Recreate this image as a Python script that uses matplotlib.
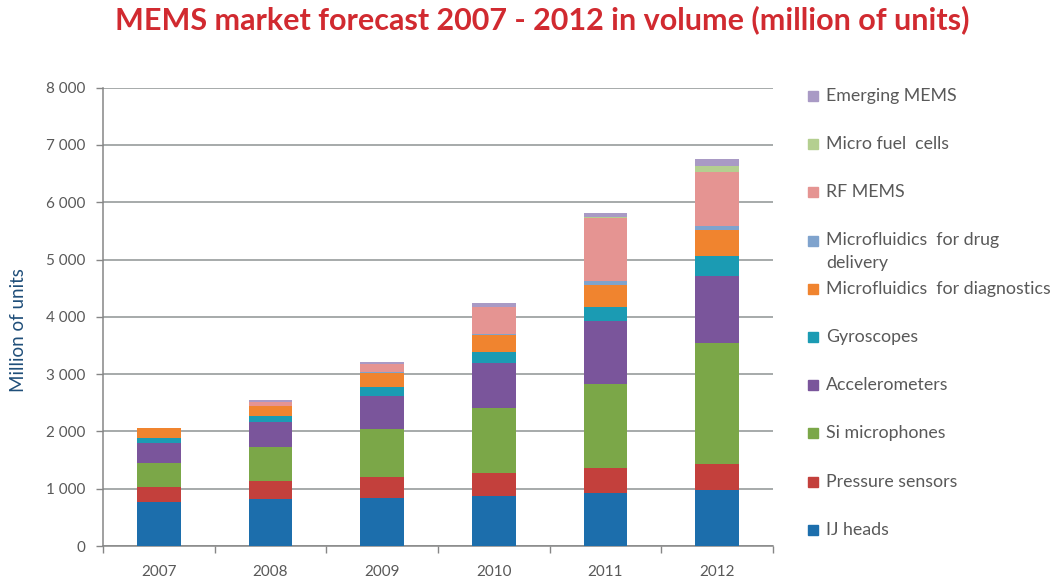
import matplotlib
matplotlib.use("Agg")
import matplotlib.pyplot as plt
from matplotlib.patches import Rectangle
from matplotlib.ticker import FuncFormatter, FixedLocator
import numpy as np

plt.rcParams['font.family'] = ['Lato', 'DejaVu Sans']

years = ['2007', '2008', '2009', '2010', '2011', '2012']

# million of units per segment, bottom to top
ij_heads = [770, 815, 838, 878, 923, 981]
pressure_sensors = [265, 319, 372, 396, 433, 444]
si_microphones = [419, 588, 826, 1134, 1477, 2110]
accelerometers = [338, 447, 587, 792, 1091, 1180]
gyroscopes = [93, 104, 146, 179, 254, 343]
mf_diagnostics = [169, 163, 245, 299, 381, 457]
mf_drug_delivery = [5, 10, 15, 20, 70, 65]
rf_mems = [0, 60, 145, 470, 1090, 955]
micro_fuel_cells = [0, 5, 5, 10, 20, 100]
emerging_mems = [0, 45, 35, 55, 70, 120]

series = [
    ('IJ heads', ij_heads, '#1c6eac'),
    ('Pressure sensors', pressure_sensors, '#c3403c'),
    ('Si microphones', si_microphones, '#7ba748'),
    ('Accelerometers', accelerometers, '#7a559b'),
    ('Gyroscopes', gyroscopes, '#1b9bb3'),
    ('Microfluidics  for diagnostics', mf_diagnostics, '#f0842f'),
    ('Microfluidics  for drug\ndelivery', mf_drug_delivery, '#7fa3cd'),
    ('RF MEMS', rf_mems, '#e59492'),
    ('Micro fuel  cells', micro_fuel_cells, '#b4cf90'),
    ('Emerging MEMS', emerging_mems, '#a99ac5'),
]

W, H = 1057, 581
fig = plt.figure(figsize=(W / 100, H / 100), dpi=100)
ax = fig.add_axes([103 / W, (H - 546) / H, 670 / W, (546 - 87.6) / H])

x = np.arange(len(years))
bottom = np.zeros(len(years))
for name, vals, col in series:
    ax.bar(x, vals, width=0.39, bottom=bottom, color=col, zorder=3)
    bottom += np.array(vals)

ax.set_xlim(-0.5, len(years) - 0.5)
ax.set_ylim(0, 8000)
ax.set_yticks(range(0, 8001, 1000))
ax.yaxis.set_major_formatter(FuncFormatter(lambda v, p: f"{int(v):,}".replace(',', ' ')))
ax.grid(axis='y', color='#8e9393', linewidth=1.1, zorder=0)

ax.xaxis.set_major_locator(FixedLocator(np.arange(-0.5, len(years), 1.0)))
ax.xaxis.set_minor_locator(FixedLocator(x))
ax.set_xticklabels([], minor=False)
ax.set_xticklabels(years, minor=True)
ax.tick_params(axis='x', which='major', length=5, color='#868686', width=1)
ax.tick_params(axis='x', which='minor', length=0, pad=14, labelsize=11, labelcolor='#595959')
ax.tick_params(axis='y', length=5, color='#868686', width=1, pad=8, labelsize=11, labelcolor='#595959')

for s in ['top', 'right']:
    ax.spines[s].set_visible(False)
for s in ['left', 'bottom']:
    ax.spines[s].set_color('#868686')
    ax.spines[s].set_linewidth(1.1)

ax.set_ylabel('Million of units', color='#1f4e79', fontsize=13.5)
ax.yaxis.set_label_coords(-76 / 670, (546 - 330) / (546 - 87.6))

fig.text(542 / W, 1 - 20 / H, 'MEMS market forecast 2007 - 2012 in volume (million of units)',
         ha='center', va='center', color='#d12a30', fontsize=22, fontweight='bold')

# legend, top entry first
for i, (name, vals, col) in enumerate(reversed(series)):
    yc = 96 + i * 48.2
    fig.patches.append(Rectangle((808 / W, 1 - (yc + 5) / H), 10 / W, 10 / H,
                                 transform=fig.transFigure, color=col, figure=fig))
    if '\n' in name:
        fig.text(826 / W, 1 - (yc - 9) / H, name, ha='left', va='top',
                 color='#595959', fontsize=12.8, linespacing=1.6)
    else:
        fig.text(826 / W, 1 - yc / H, name, ha='left', va='center',
                 color='#595959', fontsize=12.8)

fig.savefig('out.png', dpi=100)
